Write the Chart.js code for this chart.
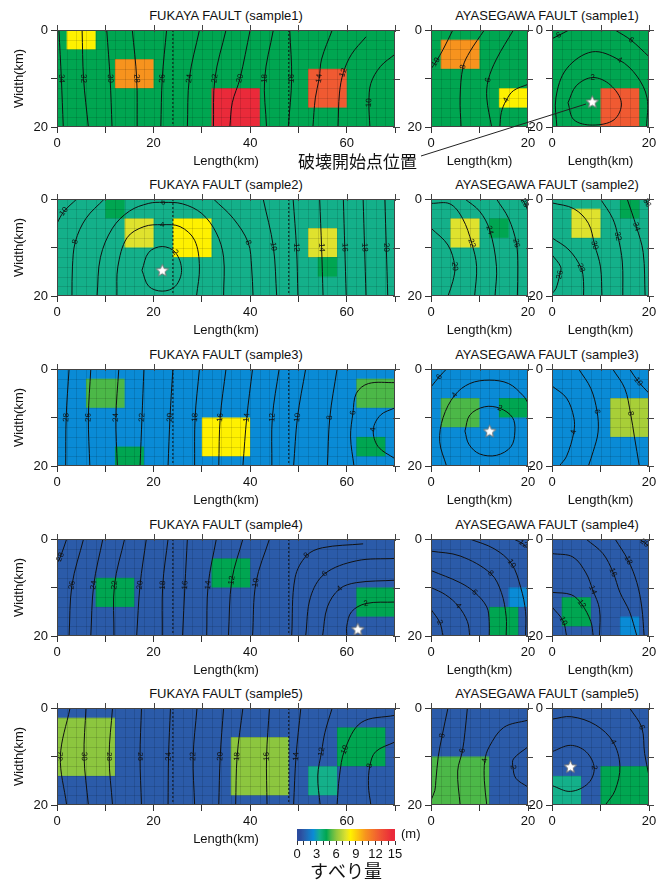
<!DOCTYPE html>
<html>
<head>
<meta charset="utf-8">
<script src="https://cdn.jsdelivr.net/npm/chart.js@4.4.1/dist/chart.umd.min.js"></script>
<style>
  body { margin: 0; background: #fff; width: 669px; height: 881px; position: relative; overflow: hidden;
         font-family: "Liberation Sans", Arial, sans-serif; color: #111; }
  canvas { position: absolute; }
  .ttl { position: absolute; font-size: 13px; line-height: 16px; white-space: nowrap; transform: translateX(-50%); }
  .note { position: absolute; font-family: "Noto Sans CJK JP", sans-serif; font-size: 17px; line-height: 20px; white-space: nowrap; }
  .unit { position: absolute; font-size: 13px; line-height: 16px; }
</style>
</head>
<body>
<script>
// -----------------------------
// Data (km along length / down-dip width, slip in m)
// -----------------------------
const samples = ["sample1", "sample2", "sample3", "sample4", "sample5"];
const fukayaLength = 70;
const ayaseLength = 20;
const faultWidth = 20;
const fukayaTicks = [0, 20, 40, 60];
const ayaseTicks = [0, 20];
const widthTicks = [0, 20];
const slipTicks = [0, 3, 6, 9, 12, 15];
const segmentBounds = [24, 48];

// background slip of each sample
const backgroundSlip = [4.5, 3.5, 2.5, 1, 1];

// asperities: [x0, x1, y0, y1, slip]
const asp_F1 = [[2, 8, 0, 4, 8.2], [12, 20, 6, 12, 10.5], [32, 42, 12, 20, 14.5], [52, 60, 8, 16, 12.5]];
const asp_A1L = [[2, 10, 2, 8, 10.5], [14, 20, 12, 16, 8.2]];
const asp_A1R = [[10, 18, 12, 20, 12.5]];
const asp_F2 = [[10, 14, 0, 4, 4.5], [14, 20, 4, 10, 7.5], [24, 32, 4, 12, 8.2], [52, 58, 6, 12, 7.5], [54, 58, 12, 16, 4.5]];
const asp_A2L = [[4, 10, 4, 10, 7.5], [12, 16, 4, 8, 4.5]];
const asp_A2R = [[4, 10, 2, 8, 7.5], [14, 18, 0, 4, 4.5]];
const asp_F3 = [[6, 14, 2, 8, 5.2], [12, 18, 16, 20, 4.5], [30, 40, 10, 18, 8.2], [62, 70, 2, 8, 5.2], [62, 68, 14, 18, 4.5]];
const asp_A3L = [[2, 10, 6, 12, 5.2], [14, 20, 6, 10, 4.5]];
const asp_A3R = [[12, 20, 6, 14, 6.5]];
const asp_F4 = [[8, 16, 8, 14, 4.5], [32, 40, 4, 10, 4.5], [62, 70, 10, 16, 4.5]];
const asp_A4L = [[12, 18, 14, 20, 4.5], [16, 20, 10, 14, 2.5]];
const asp_A4R = [[2, 8, 12, 18, 4.5], [14, 18, 16, 20, 2.5]];
const asp_F5 = [[0, 12, 2, 14, 6], [36, 48, 6, 18, 6], [52, 58, 12, 18, 3.5], [58, 68, 4, 12, 4.5]];
const asp_A5L = [[0, 12, 10, 20, 5.2]];
const asp_A5R = [[0, 6, 14, 20, 3.5], [10, 20, 12, 20, 4.5]];

// rupture time contours: [seconds, [[x, y], ...], label point index]
const cont_F1 = [
  [34, [[0.4, 0], [0.9, 10], [1.3, 20]]],
  [32, [[5.2, 0], [5.5, 10], [6.5, 20]]],
  [30, [[10.3, 0], [11, 10], [11.4, 20]]],
  [28, [[15.6, 0], [16.5, 10], [16.6, 20]]],
  [26, [[22.7, 0], [21.8, 10], [21.5, 20]]],
  [24, [[29.5, 0], [27.4, 10], [27, 20]]],
  [22, [[35, 0], [32.7, 10], [32.4, 20]]],
  [20, [[40, 0], [37.9, 10], [36.3, 15], [35.8, 20]]],
  [18, [[44.8, 0], [43, 10], [43.4, 20]]],
  [16, [[48.2, 0], [48.6, 10], [47.9, 20]]],
  [14, [[57, 0], [54.8, 6], [54.3, 10], [53.5, 14], [53, 20]]],
  [12, [[64, 1.4], [61, 5], [59.3, 8.8], [58.5, 13], [58.2, 20]]],
  [10, [[70, 5], [67, 7.5], [65, 11], [64.6, 15], [64.8, 20]], 3]
];
const cont_A1L = [
  [10, [[4.5, 0], [2.5, 4], [1, 6.6], [0, 8]], 2],
  [8, [[11, 0], [8, 4.5], [6.6, 7.6], [6, 14], [6.2, 20]]],
  [6, [[17, 0], [13.5, 6], [11.8, 10.3], [11.5, 14], [12.5, 20]]],
  [4, [[20, 11.2], [17, 12.5], [15.5, 14.5], [14.5, 17], [14.2, 20]]]
];
const cont_A1R = [
  [2, [[3.3, 15], [5, 11.5], [8.4, 9.8], [12, 11.3], [14.3, 15], [12.8, 18.5], [8.3, 19.6], [4.5, 18.5], [3.3, 15]], 2],
  [4, [[1, 20], [0.8, 14], [3, 8], [8.3, 4.5], [13.9, 6.2], [17.5, 9.5], [19.6, 14], [19.5, 20]], 4],
  [6, [[0, 1.8], [1.4, 1.1], [3.5, 0]]],
  [6, [[13, 0], [16.3, 2.1], [20, 5.5]]]
];
const cont_F2 = [
  [2, [[17.6, 14.7], [19, 11], [21.8, 9.8], [24.5, 11], [25.8, 14.7], [24.5, 18], [21.8, 19], [19, 18], [17.6, 14.7]], 3],
  [4, [[12.4, 20], [12.6, 14], [14.5, 8], [18, 5.7], [21.8, 5.3], [25.5, 5.7], [28.5, 8.5], [29.5, 14], [28.9, 20]], 4],
  [6, [[8.3, 20], [9, 12], [11.5, 6], [15, 2.5], [19, 0.9], [22, 0.7], [26, 1], [30, 3], [33, 7], [34.5, 12], [34.5, 20]], 5],
  [8, [[9.8, 0], [6, 4], [3.8, 8.8], [3.2, 14], [3.1, 20]]],
  [8, [[32.4, 0], [36.5, 4], [39.6, 9], [40.3, 14], [40.6, 20]]],
  [10, [[0, 5], [1.4, 2.6], [4.1, 0]]],
  [10, [[42.7, 0], [44.8, 9.8], [45.5, 20]]],
  [12, [[48.9, 0], [49.6, 10], [49.9, 20]]],
  [14, [[54.4, 0], [54.8, 10], [55.1, 20]]],
  [16, [[59.3, 0], [59.6, 10], [59.9, 20]]],
  [18, [[63.4, 0], [63.7, 10], [64, 20]]],
  [20, [[67.9, 0], [68.2, 10], [68.5, 20]]]
];
const cont_A2L = [
  [20, [[0, 6], [3.5, 9.5], [4.9, 13.9], [4.5, 17], [3.5, 20]]],
  [22, [[0, 0.9], [3.9, 1], [6.5, 4], [8.4, 9.1], [9.4, 13.9], [9, 20]], 3],
  [24, [[7, 0], [10, 2.5], [12.1, 6.4], [13.5, 13.9], [13.2, 20]]],
  [26, [[13.5, 0], [16, 4], [17.6, 9.1], [17.9, 14], [17.8, 20]]],
  [28, [[18.6, 0], [19.3, 0.8], [20, 2.5]]]
];
const cont_A2R = [
  [26, [[0, 11.5], [1.8, 14], [1.6, 15.6], [0.8, 18.5], [0, 19.5]]],
  [28, [[0, 8], [3.5, 10.5], [6, 14.2], [6.5, 17], [6.5, 20]]],
  [30, [[0, 0.8], [4.5, 2], [7.5, 5], [8.8, 9.5], [10, 14], [10.3, 20]], 3],
  [32, [[10, 0], [12.5, 4], [13.6, 7.7], [14.5, 13], [14.6, 20]]],
  [34, [[15.5, 0], [17.4, 5.7], [18.8, 11], [19.2, 20]]],
  [36, [[19.2, 0], [19.6, 0.8], [20, 1.6]]]
];
const cont_F3 = [
  [28, [[2.5, 0], [1.9, 10], [1.8, 20]]],
  [26, [[7, 0], [6.5, 10], [6.8, 20]]],
  [24, [[12.8, 0], [12.2, 10], [12.5, 20]]],
  [22, [[18, 0], [17.6, 10], [17.2, 20]]],
  [20, [[24, 0], [23.4, 10], [23, 20]]],
  [18, [[29.5, 0], [28.6, 10], [28.5, 20]]],
  [16, [[35, 0], [33.8, 10], [33.5, 20]]],
  [14, [[40.5, 0], [39.3, 10], [38.5, 20]]],
  [12, [[46, 0], [44.6, 10], [44.5, 20]]],
  [10, [[51.5, 0], [49.8, 10], [49, 20]]],
  [8, [[58, 0], [56.5, 10], [56, 20]]],
  [6, [[70, 2.8], [64.5, 3], [62, 5], [61.3, 9], [60.8, 14], [61.5, 20]], 3],
  [4, [[70, 8], [67, 9.5], [65.5, 12.5], [66.5, 16], [70, 18.5]]]
];
const cont_A3L = [
  [2, [[7, 12.8], [8, 9.5], [11, 7.8], [14.2, 8.1], [16.8, 10], [17.3, 12.8], [16.5, 16], [13.5, 17.8], [10, 17.5], [7.8, 15.5], [7, 12.8]], 3],
  [4, [[3.2, 20], [1.8, 15], [2.5, 10], [4.9, 5.4], [8, 3], [12, 2.3], [16, 3], [19, 5.5], [20, 7]], 3],
  [6, [[0, 3.7], [1.7, 1.6], [3.2, 0]]]
];
const cont_A3R = [
  [4, [[0, 3.5], [3, 6], [4.5, 10], [4.5, 13], [3, 18], [1.5, 20]], 3],
  [6, [[5.5, 0], [8, 4], [9.3, 8.8], [9.5, 13], [8.5, 17], [7.5, 20]]],
  [8, [[12.5, 0], [15, 4], [16.2, 9.2], [17, 14], [18, 20]]],
  [10, [[16, 0], [17.8, 2.6], [20, 5]]]
];
const cont_F4 = [
  [28, [[2, 0], [0.7, 3.7], [0, 5]]],
  [26, [[5.5, 0], [3.1, 9.5], [2.5, 20]]],
  [24, [[9.5, 0], [7.6, 9.5], [7, 20]]],
  [22, [[14, 0], [11.9, 9.5], [11.8, 20]]],
  [20, [[18.5, 0], [17.2, 9.5], [16.5, 20]]],
  [18, [[23, 0], [21.9, 9.5], [21.8, 20]]],
  [16, [[27, 0], [26.5, 9.5], [26, 20]]],
  [14, [[33, 0], [31.3, 9.5], [31, 20]]],
  [12, [[38.5, 0], [36.2, 8.5], [35.5, 20]]],
  [10, [[44, 0], [41.2, 9], [40.5, 20]]],
  [8, [[63.4, 1], [55, 1.8], [51.7, 3.4], [49.3, 8], [48.6, 20]]],
  [6, [[70, 4], [62, 4.5], [55.4, 7.2], [52.5, 12], [51.5, 20]]],
  [4, [[70, 8.5], [62, 9], [58.5, 10.3], [56, 14], [55, 20]]],
  [2, [[70, 13], [64, 13.3], [61, 15], [60, 18], [60, 20]], 1]
];
const cont_A4L = [
  [2, [[0, 14.5], [1.8, 17.2], [2.5, 20]]],
  [4, [[0, 10], [3, 11.5], [5.6, 13.8], [7.5, 17], [8, 20]]],
  [6, [[0, 6.5], [6, 9], [9, 11], [11.5, 14], [12, 17], [12, 20]]],
  [8, [[0, 2.5], [6, 3.5], [12.3, 7.1], [14.5, 11], [15.5, 16], [15.5, 20]]],
  [10, [[8, 0], [13, 2], [16.6, 5.1], [18.5, 10], [19.5, 15], [19.5, 20]]],
  [12, [[17, 0], [19, 1], [20, 2]]]
];
const cont_A4R = [
  [10, [[0, 14], [2.3, 16.9], [3, 20]]],
  [12, [[0, 11], [4, 11.5], [6.1, 13.4], [8, 17], [8.5, 20]]],
  [14, [[0, 3], [4.3, 3.7], [7, 7], [8.4, 10.5], [9.8, 14.5], [9.8, 20]], 3],
  [16, [[7, 0], [10.5, 3], [12.6, 6.9], [14, 11], [16, 15], [17.5, 20]]],
  [18, [[13, 0], [15.7, 4.4], [17.5, 9], [18.5, 14], [19, 20]], 1],
  [20, [[18, 0], [19.1, 0.8], [20, 1.5]]]
];
const cont_F5 = [
  [32, [[2.7, 0], [0.7, 10], [2, 20]]],
  [30, [[6, 0], [5.6, 10], [6.5, 20]]],
  [28, [[11.5, 0], [10.8, 10], [11.5, 20]]],
  [26, [[17.5, 0], [17.2, 10], [17.5, 20]]],
  [24, [[23.5, 0], [23.1, 10], [23, 20]]],
  [22, [[29, 0], [28.2, 10], [28.5, 20]]],
  [20, [[34.5, 0], [33.8, 10], [33.5, 20]]],
  [18, [[38.5, 0], [37.3, 10], [37, 20]]],
  [16, [[44, 0], [43.4, 10], [43.5, 20]]],
  [14, [[50.5, 0], [49.5, 10], [49, 20]]],
  [12, [[57, 0], [55.5, 5], [54.8, 9], [54, 14], [54.5, 20]]],
  [10, [[70, 1.5], [63, 3], [59.6, 8.6], [58.5, 14], [58, 20]]],
  [8, [[70, 7], [66, 9], [64.8, 11.9], [64.5, 16], [65, 20]]]
];
const cont_A5L = [
  [8, [[3.5, 0], [2.3, 5.7], [1.5, 10], [1, 15], [0.8, 17], [0, 19]], 1],
  [6, [[7.5, 0], [7, 5], [6.5, 8.8], [5.5, 13], [6, 20]]],
  [4, [[20, 2.5], [15, 4], [12, 8], [11.1, 10.8], [11, 15], [11.5, 20]], 3],
  [2, [[20, 8], [17, 10.5], [16.9, 12.2], [17.5, 14.5], [20, 16.3]]]
];
const cont_A5R = [
  [2, [[0, 9], [3.8, 7.7], [7, 9], [8.7, 12.3], [7.5, 15.5], [3.8, 17.2], [0, 16]], 3],
  [4, [[0, 2.3], [4, 1.8], [9, 3.5], [12.6, 7], [14, 12], [13, 17], [11, 20]], 3],
  [6, [[16, 0], [18.5, 4], [19.1, 9.4], [20, 14]]]
];

// hypocenters (破壊開始点)
const hypocenters = [
  { row: 0, col: 2, x: 8.3, y: 14.8 },
  { row: 1, col: 0, x: 21.8, y: 14.7 },
  { row: 2, col: 1, x: 12.1, y: 12.8 },
  { row: 3, col: 0, x: 62.3, y: 18.6 },
  { row: 4, col: 2, x: 3.8, y: 12.1 }
];

// slip colour scale
const slipLevels = [0.5, 1, 2.5, 3.5, 4.5, 5.2, 6, 6.5, 7.5, 8.2, 10.5, 12.5, 14.5];
const slipColors = ["#2a4c9f", "#2b5ba9", "#0a8bd6", "#14b08a", "#00a651", "#4cb848", "#8cc63f",
                    "#a8cf38", "#dfe22e", "#fff100", "#f7931e", "#f05a32", "#ea2a3a"];

const aspRows = [[asp_F1, asp_A1L, asp_A1R], [asp_F2, asp_A2L, asp_A2R], [asp_F3, asp_A3L, asp_A3R],
                 [asp_F4, asp_A4L, asp_A4R], [asp_F5, asp_A5L, asp_A5R]];
const contRows = [[cont_F1, cont_A1L, cont_A1R], [cont_F2, cont_A2L, cont_A2R], [cont_F3, cont_A3L, cont_A3R],
                  [cont_F4, cont_A4L, cont_A4R], [cont_F5, cont_A5L, cont_A5R]];

// -----------------------------
// Layout
// -----------------------------
const rowTop = [30, 199, 369, 539, 708];
const CELL = 2;
Chart.defaults.font.family = '"Liberation Sans", Arial, sans-serif';
Chart.defaults.font.size = 13;
Chart.defaults.color = "#111";

function slipColor(v) {
    let best = 0;
    slipLevels.forEach((l, i) => { if (Math.abs(l - v) < Math.abs(slipLevels[best] - v)) best = i; });
    return slipColors[best];
}

function starImage(r) {
    const c = document.createElement("canvas");
    const s = Math.ceil(r * 2 + 4);
    c.width = c.height = s;
    const g = c.getContext("2d");
    g.translate(s / 2, s / 2 + 0.5);
    g.beginPath();
    for (let i = 0; i < 10; i++) {
        const a = -Math.PI / 2 + i * Math.PI / 5;
        const rr = i % 2 ? r * 0.45 : r;
        g.lineTo(rr * Math.cos(a), rr * Math.sin(a));
    }
    g.closePath();
    g.fillStyle = "#fff"; g.fill();
    g.strokeStyle = "#777"; g.lineWidth = 1; g.stroke();
    return c;
}
const STAR = starImage(6.5);

function addDiv(cls, text, left, top) {
    const d = document.createElement("div");
    d.className = cls; d.textContent = text;
    d.style.left = left + "px"; d.style.top = top + "px";
    document.body.appendChild(d);
}

function faultPlugin(bg, asp, len) {
    return {
        id: "fault",
        beforeDatasetsDraw(chart) {
            const { ctx, scales: { x, y } } = chart;
            const a = chart.chartArea;
            ctx.save();
            ctx.fillStyle = slipColor(bg);
            ctx.fillRect(a.left, a.top, a.right - a.left, a.bottom - a.top);
            asp.forEach(r => {
                const x0 = x.getPixelForValue(r[0]), x1 = x.getPixelForValue(r[1]);
                const y0 = y.getPixelForValue(r[2]), y1 = y.getPixelForValue(r[3]);
                ctx.fillStyle = slipColor(r[4]);
                ctx.fillRect(x0, y0, x1 - x0, y1 - y0);
            });
            ctx.strokeStyle = "rgba(0,0,0,0.15)";
            ctx.lineWidth = 0.8;
            ctx.beginPath();
            for (let v = CELL; v < len; v += CELL) {
                const px = Math.round(x.getPixelForValue(v)) + 0.5;
                ctx.moveTo(px, a.top); ctx.lineTo(px, a.bottom);
            }
            for (let v = CELL; v < faultWidth; v += CELL) {
                const py = Math.round(y.getPixelForValue(v)) + 0.5;
                ctx.moveTo(a.left, py); ctx.lineTo(a.right, py);
            }
            ctx.stroke();
            ctx.restore();
        },
        afterDatasetsDraw(chart) {
            const { ctx, scales: { x, y } } = chart;
            const a = chart.chartArea;
            ctx.save();
            // contour labels
            ctx.font = '8px "Liberation Sans", Arial, sans-serif';
            ctx.fillStyle = "#111";
            ctx.textAlign = "center";
            ctx.textBaseline = "middle";
            chart.data.datasets.forEach((ds, i) => {
                if (ds.cLabel === undefined) return;
                const pts = chart.getDatasetMeta(i).data;
                const k = ds.cAt;
                const p0 = pts[Math.max(0, k - 1)], p1 = pts[Math.min(pts.length - 1, k + 1)];
                let ang = Math.atan2(p1.y - p0.y, p1.x - p0.x);
                if (ang > Math.PI / 2) ang -= Math.PI;
                if (ang < -Math.PI / 2) ang += Math.PI;
                ctx.save();
                ctx.translate(pts[k].x, pts[k].y);
                ctx.rotate(ang);
                ctx.fillText(String(ds.cLabel), 0, 0);
                ctx.restore();
            });
            // frame + top / right ticks
            ctx.strokeStyle = "#444";
            ctx.lineWidth = 1;
            ctx.strokeRect(a.left + 0.5, a.top + 0.5, a.right - a.left - 1, a.bottom - a.top - 1);
            ctx.beginPath();
            x.ticks.forEach(t => {
                const px = Math.round(x.getPixelForValue(t.value)) + 0.5;
                ctx.moveTo(px, a.top - 5); ctx.lineTo(px, a.top + 2);
            });
            y.ticks.forEach(t => {
                const py = Math.round(y.getPixelForValue(t.value)) + 0.5;
                ctx.moveTo(a.right - 2, py); ctx.lineTo(a.right + 5, py);
            });
            ctx.stroke();
            ctx.restore();
        }
    };
}

function makePanel(row, col) {
    const isF = col === 0;
    const len = isF ? fukayaLength : ayaseLength;
    const xt = isF ? fukayaTicks : ayaseTicks;
    const box = isF ? { left: 0, w: 410, yW: 57, padR: 15 }
                    : { left: col === 1 ? 396 : 517, w: 146, yW: 35, padR: 14 };
    const cv = document.createElement("canvas");
    cv.width = box.w; cv.height = 152;
    cv.style.left = box.left + "px";
    cv.style.top = (rowTop[row] - 12) + "px";
    cv.style.width = box.w + "px"; cv.style.height = "152px";
    document.body.appendChild(cv);

    const datasets = contRows[row][col].map(c => ({
        data: c[1].map(q => ({ x: q[0], y: q[1] })),
        showLine: true, borderColor: "#111", borderWidth: 1, pointRadius: 0, tension: 0.35,
        cLabel: c[0], cAt: c[2] !== undefined ? c[2] : Math.floor((c[1].length - 1) / 2)
    }));
    if (isF) segmentBounds.forEach(b => datasets.push({
        data: [{ x: b, y: 0 }, { x: b, y: faultWidth }],
        showLine: true, borderColor: "#111", borderWidth: 1, borderDash: [2, 2], pointRadius: 0
    }));
    hypocenters.filter(h => h.row === row && h.col === col).forEach(h => datasets.push({
        data: [{ x: h.x, y: h.y }], pointStyle: STAR, pointRadius: 7, clip: false
    }));

    new Chart(cv, {
        type: "scatter",
        data: { datasets },
        options: {
            responsive: false, animation: false, events: [],
            layout: { padding: { top: 12, right: box.padR, left: 0, bottom: 0 } },
            plugins: { legend: { display: false }, tooltip: { enabled: false } },
            scales: {
                x: {
                    type: "linear", min: 0, max: len, position: "bottom",
                    ticks: { stepSize: 10, autoSkip: false, maxRotation: 0, padding: 3, color: "#111",
                             callback: v => xt.includes(v) ? String(v) : "" },
                    grid: { drawOnChartArea: false, drawTicks: true, tickLength: 6, color: "#333" },
                    border: { display: false },
                    title: { display: !(row === 4 && !isF), text: "Length(km)", color: "#111",
                             padding: { top: 0, bottom: 1 } },
                    afterFit: s => { s.height = 43; }
                },
                y: {
                    type: "linear", min: 0, max: faultWidth, reverse: true,
                    ticks: { stepSize: 10, autoSkip: false, padding: 3, color: "#111",
                             callback: v => widthTicks.includes(v) ? String(v) : "" },
                    grid: { drawOnChartArea: false, drawTicks: true, tickLength: 6, color: "#333" },
                    border: { display: false },
                    title: { display: isF, text: "Width(km)", color: "#111", padding: { top: 12, bottom: 0 } },
                    afterFit: s => { s.width = box.yW; }
                }
            }
        },
        plugins: [faultPlugin(backgroundSlip[row], aspRows[row][col], len)]
    });
}

samples.forEach((s, row) => {
    addDiv("ttl", `FUKAYA FAULT (${s})`, 226, rowTop[row] - 22);
    addDiv("ttl", `AYASEGAWA FAULT (${s})`, 547, rowTop[row] - 22);
    for (let col = 0; col < 3; col++) makePanel(row, col);
});

// -----------------------------
// Colour bar
// -----------------------------
const cb = document.createElement("canvas");
cb.width = 130; cb.height = 55;
cb.style.left = "287px"; cb.style.top = "827px";
cb.style.width = "130px"; cb.style.height = "55px";
document.body.appendChild(cb);
new Chart(cb, {
    type: "scatter",
    data: { datasets: [] },
    options: {
        responsive: false, animation: false, events: [],
        layout: { padding: { top: 2, right: 22, left: 10, bottom: 0 } },
        plugins: { legend: { display: false }, tooltip: { enabled: false } },
        scales: {
            x: {
                type: "linear", min: slipTicks[0], max: slipTicks[slipTicks.length - 1],
                ticks: { stepSize: 1, autoSkip: false, maxRotation: 0, padding: 2, color: "#111",
                         callback: v => slipTicks.includes(v) ? String(v) : "" },
                grid: { drawOnChartArea: false, drawTicks: true, tickLength: 4, color: "#333" },
                border: { display: false },
                title: { display: true, text: "すべり量", color: "#111",
                         font: { family: '"Noto Sans CJK JP", sans-serif', size: 18 },
                         padding: { top: 0, bottom: 0 } },
                afterFit: s => { s.height = 41; }
            },
            y: { display: false, min: 0, max: 1 }
        }
    },
    plugins: [{
        id: "cbar",
        beforeDatasetsDraw(chart) {
            const { ctx, scales: { x } } = chart;
            const a = chart.chartArea;
            const x0 = x.getPixelForValue(x.min), x1 = x.getPixelForValue(x.max);
            const g = ctx.createLinearGradient(x0, 0, x1, 0);
            slipLevels.forEach((l, i) => g.addColorStop(l / x.max, slipColors[i]));
            ctx.save();
            ctx.fillStyle = g;
            ctx.fillRect(x0, a.top, x1 - x0, a.bottom - a.top);
            ctx.restore();
        }
    }]
});
addDiv("unit", "(m)", 401, 826);

// -----------------------------
// Hypocenter annotation
// -----------------------------
addDiv("note", "破壊開始点位置", 298, 151);
const svgNS = "http://www.w3.org/2000/svg";
const svg = document.createElementNS(svgNS, "svg");
svg.setAttribute("width", "669"); svg.setAttribute("height", "881");
svg.style.position = "absolute"; svg.style.left = "0"; svg.style.top = "0"; svg.style.pointerEvents = "none";
const ln = document.createElementNS(svgNS, "line");
ln.setAttribute("x1", "421"); ln.setAttribute("y1", "156");
ln.setAttribute("x2", "586"); ln.setAttribute("y2", "104");
ln.setAttribute("stroke", "#222"); ln.setAttribute("stroke-width", "1");
svg.appendChild(ln);
document.body.appendChild(svg);
</script>
</body>
</html>
